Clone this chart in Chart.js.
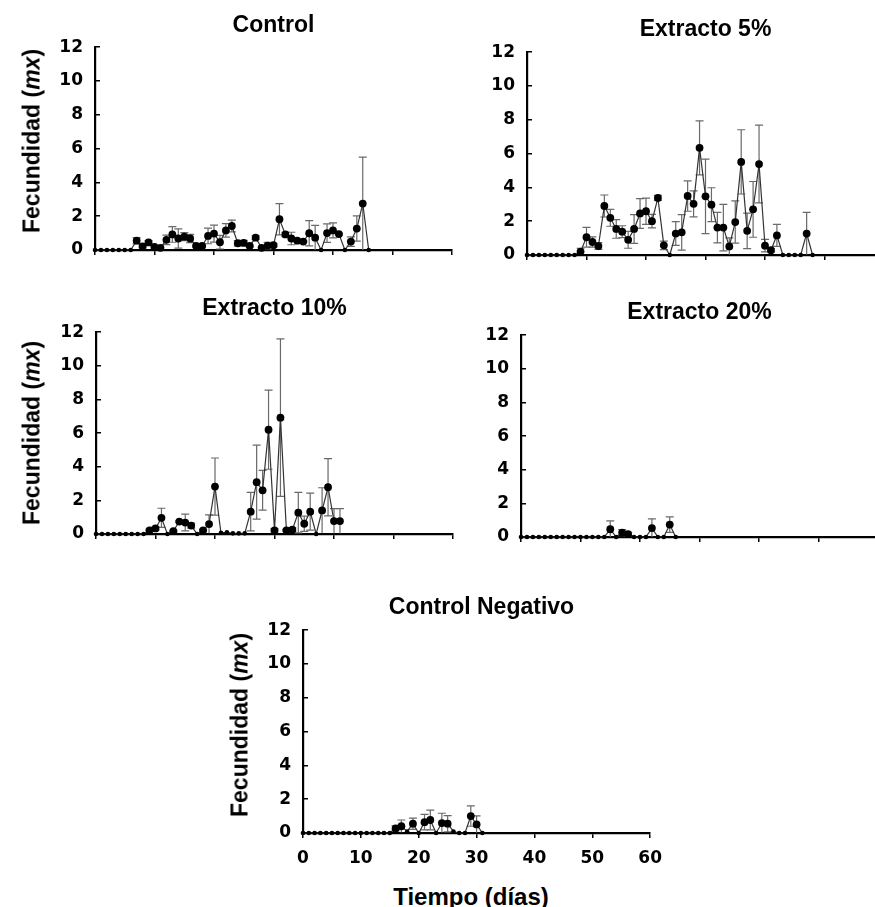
<!DOCTYPE html>
<html lang="es">
<head>
<meta charset="utf-8">
<title>Fecundidad (mx)</title>
<script src="https://cdn.jsdelivr.net/npm/chart.js@4.4.1/dist/chart.umd.min.js"></script>
<style>
    html, body { margin: 0; padding: 0; background: #fff; }
    body { width: 875px; height: 907px; position: relative; overflow: hidden;
           font-family: "Liberation Sans", Arial, sans-serif; color: #000; }
    canvas { position: absolute; }
    .titulo { position: absolute; font-weight: bold; font-size: 23px; line-height: 23px;
              white-space: nowrap; transform: translateX(-50%); }
    .eje-y { position: absolute; font-weight: bold; font-size: 23px; line-height: 23px;
             white-space: nowrap; transform: translate(-50%, -50%) rotate(-90deg); }
    .eje-x { position: absolute; font-weight: bold; font-size: 24px; line-height: 24px;
             white-space: nowrap; transform: translateX(-50%); }
</style>
</head>
<body>
<script>
// ==================== DATOS ====================
const xTicks = [0, 10, 20, 30, 40, 50, 60];
const yTicks = [0, 2, 4, 6, 8, 10, 12];

// Fecundidad media por día (día = índice) y error estándar
const controlVals = [0, 0, 0, 0, 0, 0, 0, 0.55, 0.22, 0.45, 0.18, 0.13, 0.6, 0.92, 0.68, 0.79, 0.68, 0.24, 0.24, 0.83,
    0.97, 0.46, 1.16, 1.42, 0.4, 0.42, 0.24, 0.73, 0.13, 0.26, 0.28, 1.82, 0.92, 0.68, 0.55, 0.5, 0.99, 0.73, 0, 1.0,
    1.16, 0.94, 0, 0.5, 1.27, 2.75, 0];
const controlErr = [0, 0, 0, 0, 0, 0, 0, 0.18, 0.1, 0.1, 0.05, 0, 0.28, 0.46, 0.57, 0.24, 0.24, 0.05, 0.05, 0.46,
    0.5, 0.4, 0.4, 0.35, 0.15, 0.15, 0.05, 0.1, 0, 0.2, 0.1, 0.92, 0.13, 0.37, 0.05, 0.05, 0.75, 0.73, 0, 0.55,
    0.44, 0.05, 0, 0.28, 0.75, 2.75, 0];

const ext5Vals = [0, 0, 0, 0, 0, 0, 0, 0, 0, 0.2, 1.05, 0.77, 0.53, 2.9, 2.2, 1.54, 1.38, 0.9, 1.54, 2.46,
    2.59, 2.0, 3.38, 0.57, 0, 1.27, 1.34, 3.49, 3.03, 6.34, 3.47, 2.98, 1.62, 1.62, 0.51, 1.95, 5.51, 1.43, 2.7, 5.38,
    0.55, 0.28, 1.16, 0, 0, 0, 0, 1.27, 0];
const ext5Err = [0, 0, 0, 0, 0, 0, 0, 0, 0, 0.2, 0.58, 0.3, 0.2, 0.65, 0.5, 0.55, 0.35, 0.5, 0.85, 0.88,
    0.78, 0.4, 0.15, 0.25, 0, 0.7, 1.05, 0.9, 0.77, 1.6, 2.2, 1.0, 0.9, 1.38, 0.5, 1.25, 1.9, 1.05, 1.65, 2.3,
    0.37, 0.1, 0.65, 0, 0, 0, 0, 1.25, 0];

const ext10Vals = [0, 0, 0, 0, 0, 0, 0, 0, 0, 0.22, 0.33, 0.96, 0, 0.17, 0.74, 0.68, 0.5, 0, 0.22, 0.59,
    2.82, 0.07, 0.1, 0.04, 0.04, 0.04, 1.33, 3.08, 2.6, 6.2, 0.22, 6.92, 0.22, 0.26, 1.27, 0.61, 1.33, 0, 1.4, 2.78,
    0.77, 0.77];
const ext10Err = [0, 0, 0, 0, 0, 0, 0, 0, 0, 0.05, 0.1, 0.57, 0, 0.05, 0.05, 0.5, 0.15, 0, 0.05, 0.55,
    1.7, 0, 0, 0, 0, 0, 1.14, 2.2, 1.18, 2.35, 0.1, 4.68, 0.05, 0.1, 1.2, 0.45, 1.1, 0, 1.35, 1.7,
    0.74, 0.74];

const ext20Vals = [0, 0, 0, 0, 0, 0, 0, 0, 0, 0, 0, 0, 0, 0, 0, 0.46, 0, 0.26, 0.17, 0, 0, 0, 0.53, 0, 0, 0.74, 0];
const ext20Err = [0, 0, 0, 0, 0, 0, 0, 0, 0, 0, 0, 0, 0, 0, 0, 0.5, 0, 0.18, 0.1, 0, 0, 0, 0.55, 0, 0, 0.46, 0];

const negVals = [0, 0, 0, 0, 0, 0, 0, 0, 0, 0, 0, 0, 0, 0, 0, 0, 0.27, 0.4, 0.09, 0.55, 0, 0.64, 0.77, 0, 0.59,
    0.55, 0.09, 0, 0, 1.0, 0.51, 0];
const negErr = [0, 0, 0, 0, 0, 0, 0, 0, 0, 0, 0, 0, 0, 0, 0, 0, 0.15, 0.37, 0, 0.33, 0, 0.46, 0.58, 0, 0.58,
    0.48, 0, 0, 0, 0.6, 0.5, 0];

// ==================== DISEÑO ====================
const PAD_L = 70, PAD_T = 12, PAD_R = 12, PAD_B = 45;

const paneles = [
    { titulo: 'Control',          vals: controlVals, err: controlErr, left: 95,  right: 452, top: 32,  bottom: 250, tituloY: 13,  ejeY: { x: 32, y: 141 } },
    { titulo: 'Extracto 5%',      vals: ext5Vals,    err: ext5Err,    left: 527, right: 884, top: 37,  bottom: 255, tituloY: 17 },
    { titulo: 'Extracto 10%',     vals: ext10Vals,   err: ext10Err,   left: 96,  right: 453, top: 317, bottom: 534, tituloY: 296, ejeY: { x: 32, y: 433 } },
    { titulo: 'Extracto 20%',     vals: ext20Vals,   err: ext20Err,   left: 521, right: 878, top: 320, bottom: 537, tituloY: 300 },
    { titulo: 'Control Negativo', vals: negVals,     err: negErr,     left: 303, right: 660, top: 615, bottom: 833, tituloY: 595, ejeY: { x: 240, y: 725 }, etiquetasX: true }
];

const fuenteTicks = { family: '"DejaVu Sans", sans-serif', size: 17, weight: 'bold' };

// ==================== BARRAS DE ERROR ====================
const barrasError = {
    id: 'barrasError',
    beforeDatasetsDraw(chart) {
        const { ctx, scales: { x, y } } = chart;
        const ds = chart.data.datasets[0];
        ctx.save();
        ctx.strokeStyle = '#6a6a6a';
        ctx.lineWidth = 1.2;
        ds.data.forEach((p, i) => {
            const e = ds.errores[i];
            if (!e) return;
            const px = x.getPixelForValue(p.x);
            const yt = y.getPixelForValue(p.y + e);
            const yb = y.getPixelForValue(Math.max(0, p.y - e));
            ctx.beginPath();
            ctx.moveTo(px, yt); ctx.lineTo(px, yb);
            ctx.moveTo(px - 4, yt); ctx.lineTo(px + 4, yt);
            if (p.y - e > 0.05) { ctx.moveTo(px - 4, yb); ctx.lineTo(px + 4, yb); }
            ctx.stroke();
        });
        ctx.restore();
    }
};

// ==================== PANELES ====================
function crearPanel(p) {
    const canvas = document.createElement('canvas');
    canvas.width = p.right - p.left + PAD_L + PAD_R;
    canvas.height = p.bottom - p.top + PAD_T + PAD_B;
    canvas.style.left = (p.left - PAD_L) + 'px';
    canvas.style.top = (p.top - PAD_T) + 'px';
    document.body.appendChild(canvas);

    new Chart(canvas, {
        type: 'line',
        data: {
            datasets: [{
                data: p.vals.map((v, i) => ({ x: i, y: v })),
                errores: p.err,
                borderColor: '#333',
                borderWidth: 1.2,
                tension: 0,
                pointBackgroundColor: '#000',
                pointBorderWidth: 0,
                pointRadius: c => (c.raw && c.raw.y > 0.1 ? 3.9 : 2.3),
                clip: false
            }]
        },
        options: {
            responsive: false,
            animation: false,
            layout: { padding: { top: PAD_T, right: PAD_R, left: 0, bottom: 0 } },
            plugins: { legend: { display: false }, tooltip: { enabled: false } },
            scales: {
                x: {
                    type: 'linear', min: 0, max: 60,
                    afterBuildTicks: s => { s.ticks = xTicks.map(v => ({ value: v })); },
                    afterFit: s => { s.height = PAD_B; },
                    border: { color: '#000', width: 2.2 },
                    grid: { drawOnChartArea: false, tickLength: 5, color: '#000', lineWidth: 1.5 },
                    ticks: { display: !!p.etiquetasX, font: fuenteTicks, color: '#000', padding: 10, maxRotation: 0 }
                },
                y: {
                    min: 0, max: 12,
                    afterBuildTicks: s => { s.ticks = yTicks.map(v => ({ value: v })); },
                    afterFit: s => { s.width = PAD_L; },
                    border: { color: '#000', width: 2.2 },
                    grid: { drawOnChartArea: false, tickLength: -5, color: '#000', lineWidth: 1.5 },
                    ticks: { font: fuenteTicks, color: '#000', padding: 17 }
                }
            }
        },
        plugins: [barrasError]
    });

    const t = document.createElement('div');
    t.className = 'titulo';
    t.textContent = p.titulo;
    t.style.left = ((p.left + p.right) / 2) + 'px';
    t.style.top = p.tituloY + 'px';
    document.body.appendChild(t);

    if (p.ejeY) {
        const e = document.createElement('div');
        e.className = 'eje-y';
        e.innerHTML = 'Fecundidad (<i>mx</i>)';
        e.style.left = p.ejeY.x + 'px';
        e.style.top = p.ejeY.y + 'px';
        document.body.appendChild(e);
    }
}

paneles.forEach(crearPanel);

const ejeX = document.createElement('div');
ejeX.className = 'eje-x';
ejeX.textContent = 'Tiempo (días)';
ejeX.style.left = '471px';
ejeX.style.top = '885px';
document.body.appendChild(ejeX);
</script>
</body>
</html>
